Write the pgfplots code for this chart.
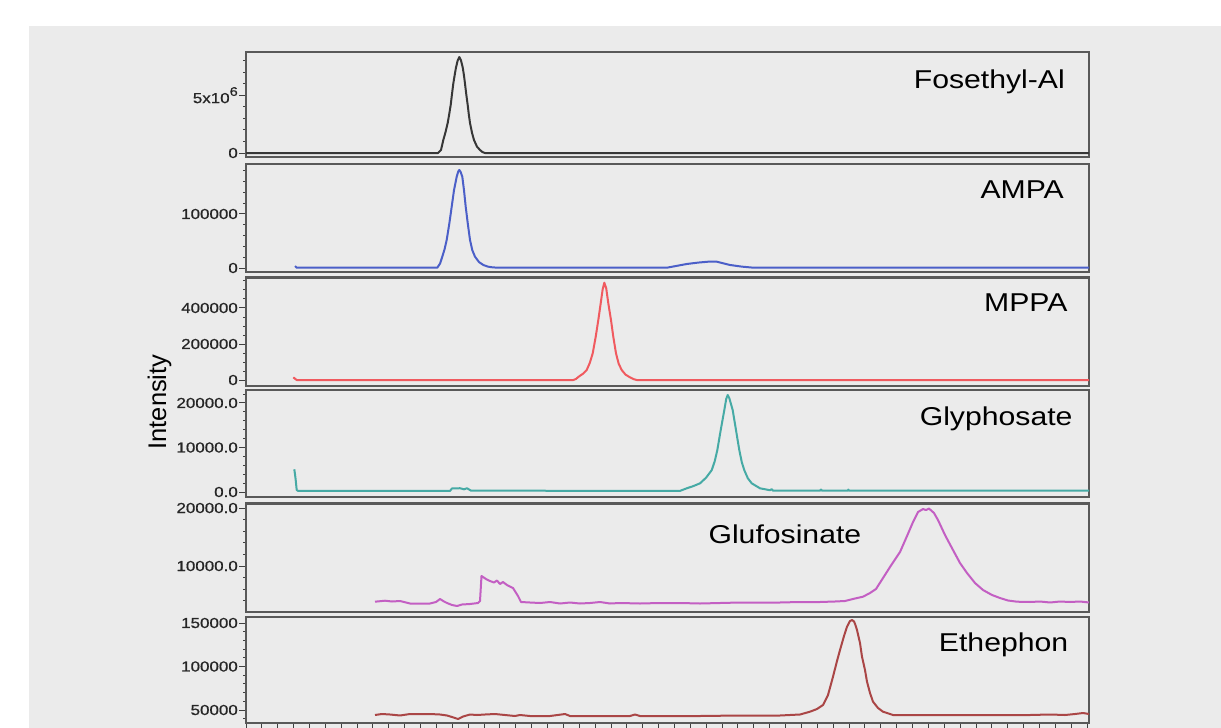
\documentclass[border=0pt]{standalone}
\usepackage{fontspec}
\setmainfont{Liberation Sans}[FakeStretch=1.17]
\newfontfamily\plainsans{Liberation Sans}
\newfontfamily\tickfont{Liberation Sans}[FakeStretch=1.17, FakeBold=0.6]
\usepackage{pgfplots}
\pgfplotsset{compat=1.18}
\definecolor{bg}{RGB}{235,235,235}
\definecolor{cFos}{RGB}{55,55,55}
\definecolor{cAMPA}{RGB}{75,95,200}
\definecolor{cMPPA}{RGB}{240,90,95}
\definecolor{cGly}{RGB}{70,170,165}
\definecolor{cGlu}{RGB}{195,95,195}
\definecolor{cEth}{RGB}{170,70,70}
\pgfplotsset{panel/.style={
  scale only axis, width=843pt, xmin=0, xmax=843,
  axis line style={draw=black!65, line width=2.3pt},
  xtick=\empty, ytick pos=left, tick align=outside,
  major tick length=7pt, minor tick length=3pt,
  every tick/.style={black!75, line width=1pt},
  yticklabel style={font=\tickfont\fontsize{14.5}{15}\selectfont, text=black!85, inner xsep=1pt},
  scaled y ticks=false,
  axis background/.style={fill=bg},
  every axis plot/.append style={line width=2pt, line join=round, no marks},
}}
\newcommand{\nm}{\fontsize{25.8}{27}\selectfont}
\begin{document}
\begin{tikzpicture}
\useasboundingbox (0,0) rectangle (1221pt,-728pt);
\fill[white] (0,0) rectangle (1221pt,-728pt);
\fill[bg] (29pt,-26pt) rectangle (1221pt,-728pt);
\clip (0,0) rectangle (1221pt,-728pt);

% Fosethyl-Al
\begin{axis}[panel, at={(246pt,-157pt)}, anchor=south west, height=105.3pt,
  ymin=-345000, ymax=8760000, ytick={0,5000000}, yticklabels={0,5x10\raisebox{0.5em}{\fontsize{12.5}{13}\selectfont 6}},
  minor ytick={1000000,2000000,3000000,4000000,6000000,7000000,8000000}]
\addplot[cFos] coordinates {(0,0) (192,0) (195,260000) (197.3,1120000) (199.5,1800000) (201.7,2600000) (203.2,3350000) (204.7,4150000) (206,5100000) (207.3,6000000) (208.7,6750000) (210,7400000) (211.7,8000000) (213.3,8300000) (215,8000000) (216.7,7400000) (217.9,6750000) (219,6000000) (220.3,5050000) (221.7,4150000) (222.8,3350000) (224,2600000) (226,1750000) (228,1120000) (231,550000) (234,260000) (236.5,80000) (239,0) (843,0)};
\node[anchor=base east, font=\nm] at (axis description cs:0.9755,0.652) {Fosethyl-Al};
\end{axis}

% AMPA
\begin{axis}[panel, at={(246pt,-272.3pt)}, anchor=south west, height=108pt,
  ymin=-7960, ymax=192000, ytick={0,100000}, yticklabels={0,100000},
  minor ytick={20000,40000,60000,80000,120000,140000,160000,180000}]
\addplot[cAMPA] coordinates {(49,3700) (50.7,500) (191.3,700) (194,8000) (196.3,21000) (198.6,35000) (200.7,52000) (203.3,82000) (205.7,113500) (208,144000) (210.7,169000) (212.2,178500) (213.3,181500) (214.6,178000) (216.3,169000) (218,144000) (219.7,113500) (221.8,82000) (224,52000) (226.3,33000) (229,21000) (233,11000) (237.3,5600) (242,2500) (247.3,1000) (260,500) (420.7,500) (440.7,7400) (452,10000) (462.3,11700) (470.7,11700) (484,5600) (496,2500) (507.3,600) (843,500)};
\node[anchor=base east, font=\nm] at (axis description cs:0.9743,0.685) {AMPA};
\end{axis}

% MPPA
\begin{axis}[panel, at={(246pt,-386pt)}, anchor=south west, height=108.5pt,
  ymin=-33300, ymax=569400, ytick={0,200000,400000}, yticklabels={0,200000,400000},
  minor ytick={50000,100000,150000,250000,300000,350000,450000,500000,550000}]
\addplot[cMPPA] coordinates {(47.3,14800) (50.7,0) (327.3,0) (330,6000) (332.7,18500) (337,35000) (340.7,55600) (343.8,95000) (346.7,148000) (349.7,240000) (352.3,333000) (354.7,426000) (356.7,505000) (358.3,540600) (360.2,510000) (362.3,426000) (365,333000) (367.3,240000) (370,148000) (372.7,90000) (375.7,55600) (379.5,30000) (384,14800) (387.5,5000) (390.7,0) (843,0)};
\node[anchor=base east, font=\nm] at (axis description cs:0.9786,0.685) {MPPA};
\end{axis}

% Glyphosate
\begin{axis}[panel, at={(246pt,-496.7pt)}, anchor=south west, height=106.7pt,
  ymin=-1056, ymax=22920, ytick={0,10000,20000}, yticklabels={0.0,10000.0,20000.0},
  minor ytick={2000,4000,6000,8000,12000,14000,16000,18000,22000}]
\addplot[cGly] coordinates {(48.3,5100) (49,4000) (49.7,2700) (50.7,450) (52,250) (204,250) (206,800) (214,850) (218,600) (221,850) (225,300) (434,250) (440.7,830) (447,1300) (454,1950) (460,3200) (465.7,4900) (468.7,6900) (471.3,9400) (474.7,13900) (478.3,18400) (480.2,20900) (481.7,21800) (483.3,21100) (486.7,18400) (490,13900) (493.3,9400) (495.8,6700) (498.3,4900) (501.8,3100) (505.7,1950) (514,830) (524,400) (525.7,650) (527,300) (574,300) (575,550) (576,300) (602,300) (602.3,550) (603,300) (843,300)};
\node[anchor=base east, font=\nm] at (axis description cs:0.9846,0.663) {Glyphosate};
\end{axis}

% Glufosinate
\begin{axis}[panel, at={(246pt,-611.7pt)}, anchor=south west, height=108.2pt,
  ymin=2120, ymax=20780, ytick={10000,20000}, yticklabels={10000.0,20000.0},
  minor ytick={4000,6000,8000,12000,14000,16000,18000}]
\addplot[cGlu] coordinates {(129,3845) (139,4017) (146,3879) (154,3965) (164,3534) (174,3534) (184,3534) (190,3793) (194,4310) (198,3879) (201,3620) (206,3276) (211,3103) (216,3362) (224,3448) (232,3620) (234,3965) (235.5,8275) (240,7758) (244,7413) (248,7155) (251,7499) (254,6896) (257,7241) (261,6724) (267,6206) (272,4827) (275,3793) (284,3707) (294,3620) (304,3793) (314,3534) (324,3707) (334,3534) (344,3620) (354,3793) (364,3534) (374,3620) (394,3534) (414,3620) (434,3620) (454,3534) (474,3620) (494,3707) (514,3707) (534,3707) (554,3793) (574,3793) (589,3879) (599,3965) (609,4396) (617,4707) (624,5344) (630,6034) (637,7930) (644,9827) (654,12413) (661,15171) (667,17585) (672,19309) (677,19826) (680,19654) (683,19912) (688,19136) (692,17930) (699,15344) (707,12758) (714,10516) (721,8792) (729,7068) (737,5862) (746,5000) (754,4482) (762,4051) (771,3845) (784,3793) (794,3879) (804,3707) (814,3879) (824,3793) (834,3879) (843,3707)};
\node[anchor=base east, font=\nm] at (axis description cs:0.734,0.632) {Glufosinate};
\end{axis}

% Ethephon
\begin{axis}[panel, at={(246pt,-723.3pt)}, anchor=south west, height=106.6pt,
  ymin=34710, ymax=157240, ytick={50000,100000,150000}, yticklabels={50000,100000,150000},
  minor ytick={40000,60000,70000,80000,90000,110000,120000,130000,140000},
  xtick={0,15.87,...,843}, xticklabels={}, xtick pos=bottom]
\addplot[cEth] coordinates {(129,44250) (136,45400) (144,44830) (154,43680) (164,45400) (174,45400) (184,45400) (194,44830) (201,43680) (206,41950) (212,39650) (217,42530) (224,44830) (231,44250) (239,44830) (249,45400) (259,44250) (269,43100) (274,44250) (284,43100) (304,43100) (319,45400) (324,43100) (344,43100) (364,43100) (384,43100) (389,44830) (394,43100) (414,43100) (454,43100) (494,43680) (534,43680) (554,44830) (564,48050) (571,51150) (577,55750) (582,67240) (587,88270) (591,106320) (594,118960) (598,135050) (601,145740) (604,152300) (606,153450) (608,151800) (609.5,147500) (611,141950) (614,127010) (616,111260) (619,95970) (621,82530) (624,69540) (627,59540) (632,52300) (637,48050) (647,44250) (674,44250) (714,44250) (754,44250) (784,44250) (804,44830) (819,44250) (829,45400) (837,46550) (843,45400)};
\node[anchor=base east, font=\nm] at (axis description cs:0.9795,0.672) {Ethephon};
\end{axis}

\node[rotate=90, anchor=base, font=\plainsans\fontsize{25.5}{27}\selectfont] at (166pt,-402pt) {Intensity};
\end{tikzpicture}
\end{document}
